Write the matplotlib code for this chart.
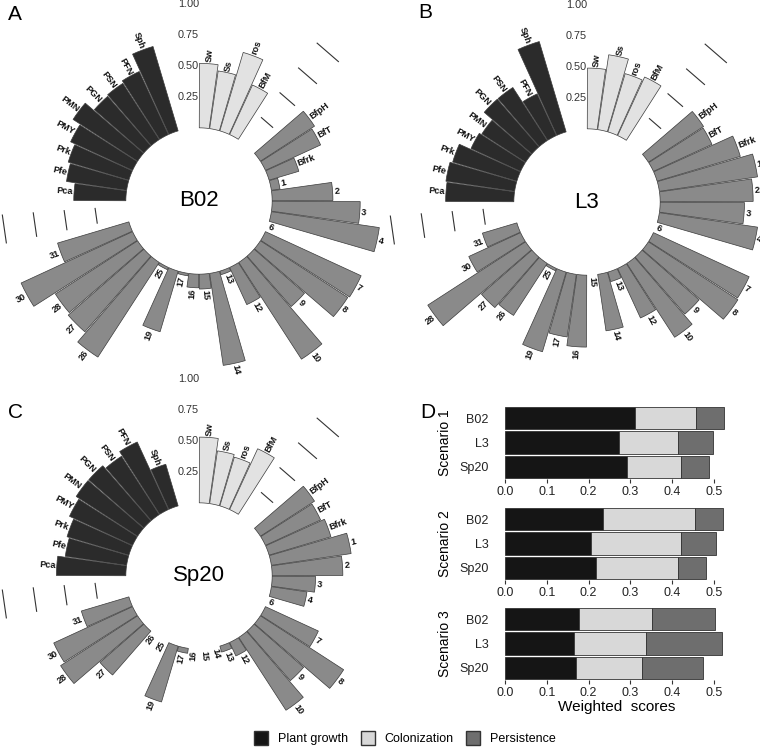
import numpy as np
import matplotlib
matplotlib.use('Agg')
import matplotlib.pyplot as plt
from matplotlib.patches import Patch

plt.rcParams['font.family'] = ['Liberation Sans', 'DejaVu Sans']

# categories of the circular plots
plant_labels = ['Pca', 'Pfe', 'Prk', 'PMY', 'PMN', 'PGN', 'PSN', 'PFN', 'Sph']
colon_labels = ['Sw', 'Ss', 'ros', 'BfM']
persist_labels = ['BfpH', 'BfT', 'Bfrk', '1', '2', '3', '4', '6', '7', '8', '9', '10',
                  '12', '13', '14', '15', '16', '17', '19', '25', '26', '27', '28', '30', '31']

# B02
b02_plant = [0.42, 0.49, 0.51, 0.55, 0.62, 0.53, 0.54, 0.56, 0.71]
b02_colon = [0.52, 0.47, 0.66, 0.44]
b02_persist = [0.52, 0.49, 0.25, 0.07, 0.49, 0.71, 0.88, 0.0, 0.85, 0.84, 0.54, 0.93,
               0.33, 0.03, 0.75, 0.12, 0.11, 0.02, 0.51, 0.02, 0.91, 0.81, 0.79, 0.99, 0.60]
# L3
l3_plant = [0.55, 0.56, 0.54, 0.44, 0.42, 0.51, 0.51, 0.37, 0.76]
l3_colon = [0.49, 0.61, 0.49, 0.52]
l3_persist = [0.53, 0.52, 0.70, 0.80, 0.75, 0.68, 0.80, 0.0, 0.85, 0.86, 0.61, 0.71,
              0.44, 0.08, 0.46, 0.0, 0.58, 0.51, 0.67, 0.02, 0.50, 0.54, 0.94, 0.46, 0.29]
# Sp20
sp20_plant = [0.56, 0.50, 0.52, 0.56, 0.59, 0.59, 0.56, 0.60, 0.35]
sp20_colon = [0.53, 0.43, 0.41, 0.54]
sp20_persist = [0.52, 0.49, 0.52, 0.65, 0.57, 0.35, 0.29, 0.0, 0.47, 0.80, 0.53, 0.70,
                0.12, 0.05, 0.0, 0.0, 0.0, 0.04, 0.47, 0.0, 0.0, 0.47, 0.74, 0.70, 0.40]

scale_ticks = [0.25, 0.50, 0.75, 1.00]

# panel D: weighted scores (plant growth, colonization, persistence)
strains = ['B02', 'L3', 'Sp20']
scenarios = ['Scenario 1', 'Scenario 2', 'Scenario 3']
s1_plant = [0.311, 0.273, 0.291]
s1_colon = [0.145, 0.142, 0.130]
s1_persist = [0.067, 0.083, 0.066]
s2_plant = [0.234, 0.205, 0.217]
s2_colon = [0.220, 0.217, 0.197]
s2_persist = [0.068, 0.083, 0.067]
s3_plant = [0.178, 0.166, 0.171]
s3_colon = [0.174, 0.171, 0.156]
s3_persist = [0.150, 0.182, 0.147]

W, H = 760, 747
fig = plt.figure(figsize=(W / 100, H / 100), dpi=100)

c_plant, c_colon, c_persist = '#2b2b2b', '#e2e2e2', '#8a8a8a'
RORIG = -0.59
NSLOT = 44
slot = 2 * np.pi / NSLOT


def circ_panel(cx, cy, name, plant, colon, persist):
    R = 124 * (1.0 - RORIG)
    ax = fig.add_axes([(cx - R) / W, 1 - (cy + R) / H, 2 * R / W, 2 * R / H],
                      projection='polar')
    ax.set_theta_zero_location('N')
    ax.set_theta_direction(-1)
    ax.set_rorigin(RORIG)
    ax.set_ylim(0, 1.0)
    ax.axis('off')
    ax.patch.set_alpha(0)

    groups = [(colon_labels, colon, c_colon, 0),
              (persist_labels, persist, c_persist, 6),
              (plant_labels, plant, c_plant, 33)]
    for labels, vals, col, start in groups:
        for i, (lab, v) in enumerate(zip(labels, vals)):
            th = (start + i + 0.5) * slot
            if v > 0:
                ax.bar(th, v, width=slot * 0.95, bottom=0, color=col,
                       edgecolor='#3a3a3a', linewidth=0.5, clip_on=False)
            deg = np.degrees(th)
            if deg < 180:
                rot, ha = 90 - deg, 'left'
            else:
                rot, ha = 270 - deg, 'right'
            ax.text(th, v + 0.012, lab, rotation=rot, ha=ha, va='center',
                    rotation_mode='anchor', fontsize=6.6, fontweight='bold',
                    color='#111111')

    # grid segments in the gaps
    for s in (4, 31):
        for r in scale_ticks:
            ax.plot([(s + 0.5) * slot, (s + 1.5) * slot], [r, r], color='#333333',
                    lw=0.8, clip_on=False)
    for r in scale_ticks:
        ax.text(0, r, f'{r:.2f}', ha='right', va='center', fontsize=7.8, color='#333333')
    ax.text(0.5, 0.5, name, transform=ax.transAxes, ha='center', va='center',
            fontsize=16)


circ_panel(199, 201, 'B02', b02_plant, b02_colon, b02_persist)
circ_panel(587, 202, 'L3', l3_plant, l3_colon, l3_persist)
circ_panel(199, 576, 'Sp20', sp20_plant, sp20_colon, sp20_persist)

# panel D
d_plant, d_colon, d_persist = '#151515', '#d8d8d8', '#6e6e6e'
px_unit = 418
xmax = 0.535
tops = [406, 507, 607]
sc_data = [(s1_plant, s1_colon, s1_persist),
           (s2_plant, s2_colon, s2_persist),
           (s3_plant, s3_colon, s3_persist)]
for k, (top, (pg, co, pe)) in enumerate(zip(tops, sc_data)):
    hpx = 73
    ax = fig.add_axes([505 / W, 1 - (top + hpx) / H, xmax * px_unit / W, hpx / H])
    y = np.arange(len(strains))[::-1]
    pg, co, pe = np.array(pg), np.array(co), np.array(pe)
    kw = dict(height=0.92, edgecolor='#333333', linewidth=0.6)
    ax.barh(y, pg, color=d_plant, **kw)
    ax.barh(y, co, left=pg, color=d_colon, **kw)
    ax.barh(y, pe, left=pg + co, color=d_persist, **kw)
    ax.set_xlim(0, xmax)
    ax.set_ylim(-0.5, 2.5)
    ax.set_xticks([0, 0.1, 0.2, 0.3, 0.4, 0.5])
    ax.set_xticklabels(['0.0', '0.1', '0.2', '0.3', '0.4', '0.5'], fontsize=9, color='#222222')
    ax.set_yticks(y)
    ax.set_yticklabels(strains, fontsize=9, color='#222222')
    ax.tick_params(axis='y', length=0, pad=12)
    ax.tick_params(axis='x', length=3, width=0.8, pad=2, color='#333333')
    for sp in ax.spines.values():
        sp.set_visible(False)
    ax.set_ylabel(scenarios[k], fontsize=10)
    ax.yaxis.set_label_coords(-53 / (xmax * px_unit), 0.5)
    if k == 2:
        ax.set_xlabel('Weighted  scores', fontsize=11, labelpad=1)

# panel letters
for lab, x, y in [('A', 8, 14), ('B', 418, 12), ('C', 8, 412), ('D', 420, 412)]:
    fig.text(x / W, 1 - y / H, lab, fontsize=15, ha='left', va='center')

handles = [Patch(facecolor=d_plant, edgecolor='#333333', label='Plant growth'),
           Patch(facecolor=d_colon, edgecolor='#333333', label='Colonization'),
           Patch(facecolor=d_persist, edgecolor='#333333', label='Persistence')]
fig.legend(handles=handles, loc='center', bbox_to_anchor=(405 / W, 1 - 738 / H),
           ncol=3, frameon=False, fontsize=9, handlelength=1.1, handleheight=1.4,
           columnspacing=1.0, handletextpad=0.8)

fig.savefig('out.png', dpi=100)
